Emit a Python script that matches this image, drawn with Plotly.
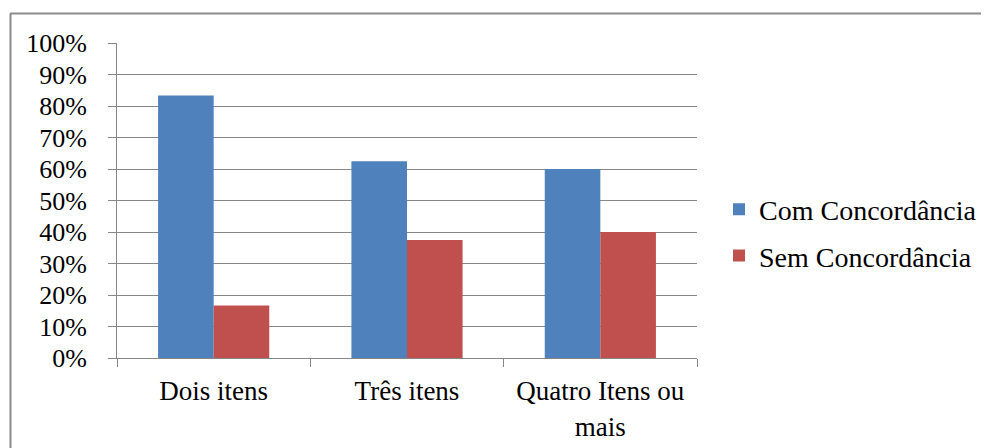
import plotly.graph_objects as go

categories = ["Dois itens", "Três itens", "Quatro Itens ou<br>mais"]
com_concordancia = [0.8333, 0.625, 0.60]
sem_concordancia = [0.1667, 0.375, 0.40]
series_names = ["Com Concordância", "Sem Concordância"]

OFF = 8  # page body margin
W, H = 989 - OFF, 448 - OFF
L, R, T, B = 117 - OFF, 697 - OFF, 43 - OFF, 358 - OFF
pw, ph = R - L, B - T

family = "Liberation Serif, Times New Roman, serif"
font_y = dict(family=family, size=26, color="#000000")
font_x = dict(family=family, size=27, color="#000000")
font_leg = dict(family=family, size=28, color="#000000")
grid = "#868686"

fig = go.Figure()
fig.add_trace(go.Bar(x=categories, y=com_concordancia, name=series_names[0],
                     marker=dict(color="#4F81BD", line=dict(width=0)), legendgroup="a"))
fig.add_trace(go.Bar(x=categories, y=sem_concordancia, name=series_names[1],
                     marker=dict(color="#C0504D", line=dict(width=0)), legendgroup="b"))

def px_x(x):
    return (x - OFF - L) / pw

def px_y(y):
    return (B - (y - OFF)) / ph

fig.update_layout(
    width=W, height=H,
    margin=dict(l=L, r=W - R, t=T, b=H - B, autoexpand=False),
    paper_bgcolor="white", plot_bgcolor="white",
    font=font_y,
    barmode="group", bargap=0.425, bargroupgap=0,
    showlegend=True,
    legend=dict(x=px_x(719), xanchor="left", y=px_y(232.5), yanchor="middle",
                font=font_leg, tracegroupgap=7, bgcolor="rgba(0,0,0,0)"),
    xaxis=dict(showgrid=False, showline=True, linecolor=grid, linewidth=1,
               ticks="outside", tickson="boundaries", ticklen=8, tickcolor=grid,
               tickfont=font_x, ticklabelstandoff=9, automargin=False),
    yaxis=dict(range=[0, 1], dtick=0.1, tickformat=".0%", showgrid=True,
               gridcolor=grid, gridwidth=1, showline=True, linecolor=grid,
               linewidth=1, ticks="outside", ticklen=8, tickcolor=grid,
               tickfont=font_y, ticklabelstandoff=16, zeroline=False,
               automargin=False),
    shapes=[
        dict(type="line", xref="paper", yref="paper",
             x0=px_x(10), x1=px_x(995), y0=px_y(13.5), y1=px_y(13.5),
             line=dict(color="#8C8C8C", width=2)),
        dict(type="line", xref="paper", yref="paper",
             x0=px_x(10.5), x1=px_x(10.5), y0=px_y(13.5), y1=px_y(455),
             line=dict(color="#8C8C8C", width=2)),
    ],
)

fig.write_html("out.html")
